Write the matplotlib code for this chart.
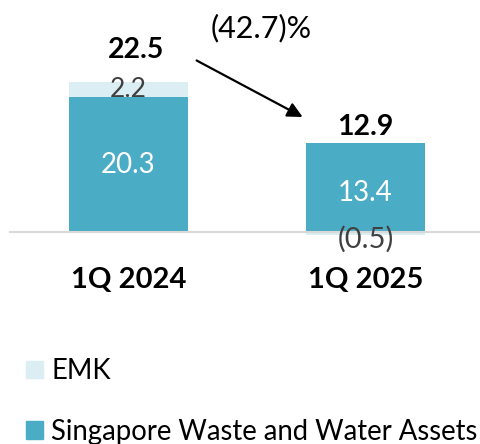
import matplotlib.pyplot as plt
from matplotlib.patches import Patch

plt.rcParams['font.family'] = ['Lato', 'DejaVu Sans']

periods = ['1Q 2024', '1Q 2025']
swwa = [20.3, 13.4]
emk = [2.2, -0.5]
totals = [22.5, 12.9]
change = '(42.7)%'
series_names = ['EMK', 'Singapore Waste and Water Assets']

C_SWWA = '#4bacc6'
C_EMK = '#daeef3'

fig = plt.figure(figsize=(4.8, 4.44), dpi=100)
ax = fig.add_axes([0, 0, 1, 1])
# data limits chosen so the baseline sits ~232 px from the top
ax.set_xlim(-0.542, 1.483)
ax.set_ylim(-31.9, 34.9)
ax.axis('off')

x = [0, 1]
w = 0.502
ax.bar(x, swwa, w, color=C_SWWA, zorder=2)
emk_bottom = [s if e > 0 else 0 for s, e in zip(swwa, emk)]
ax.bar(x, emk, w, bottom=emk_bottom, color=C_EMK, zorder=1)
ax.axhline(0, xmin=10 / 480, xmax=1, color='#d9d9d9', lw=1.5, zorder=3)

# segment labels
ax.text(0, swwa[0] / 2, f'{swwa[0]:.1f}', ha='center', va='center', color='white', fontsize=20)
ax.text(1, swwa[1] / 2 - 0.8, f'{swwa[1]:.1f}', ha='center', va='center', color='white', fontsize=20)
ax.text(0, swwa[0] + emk[0] / 2, f'{emk[0]:.1f}', ha='center', va='center', color='#404040', fontsize=19)
ax.text(1, -1.1, f'({abs(emk[1]):.1f})', ha='center', va='center', color='#404040', fontsize=21)

# totals
ax.text(0.03, totals[0] + 4.9, f'{totals[0]:.1f}', ha='center', va='center', fontsize=20.5, fontweight='bold')
ax.text(1.0, totals[1] + 2.9, f'{totals[1]:.1f}', ha='center', va='center', fontsize=20.5, fontweight='bold')

# change arrow
ax.annotate('', xy=(0.745, 17.1), xytext=(0.277, 26.0),
            arrowprops=dict(arrowstyle='-|>,head_length=0.9,head_width=0.45', color='black', lw=1.6))
ax.text(0.56, 30.6, change, ha='center', va='center', fontsize=22)

# category labels
for xi, p in zip(x, periods):
    ax.text(xi, -7.3, p, ha='center', va='center', fontsize=21, fontweight='bold')

handles = [Patch(color=C_EMK), Patch(color=C_SWWA)]
fig.legend(handles, series_names, loc='lower left', bbox_to_anchor=(0.031, -0.026),
           frameon=False, fontsize=19.8, handlelength=0.62, handleheight=0.62,
           handletextpad=0.3, labelspacing=1.25, borderaxespad=0)

fig.savefig('out.png', dpi=100)
